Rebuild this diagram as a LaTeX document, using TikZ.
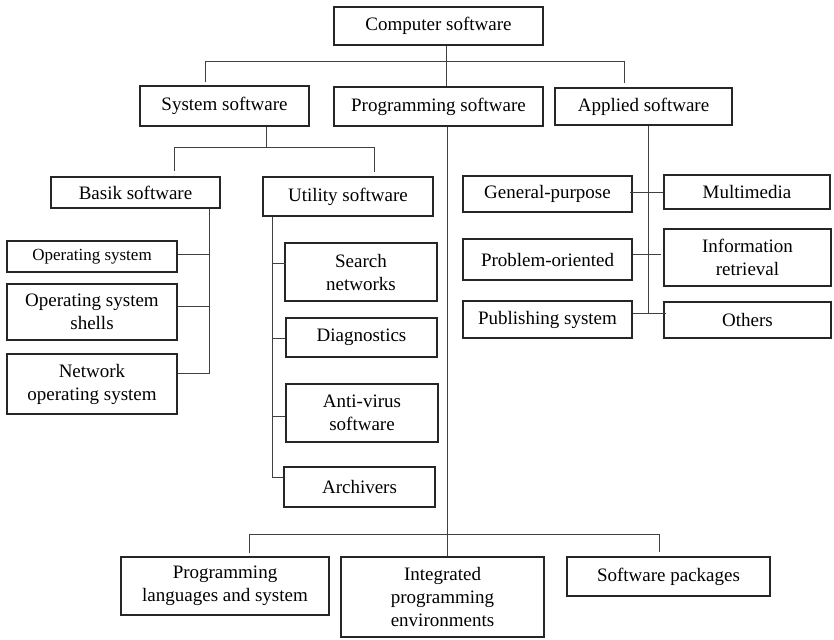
\documentclass[tikz,border=0pt]{standalone}
\usepackage{fontspec}
\setmainfont{Liberation Serif}
\begin{document}
\begin{tikzpicture}[x=1pt,y=-1pt,
  box/.style={draw=black!85, line width=1.5pt, inner sep=0pt, align=center,
    font=\fontsize{19}{23}\selectfont},
  small/.style={font=\fontsize{17}{21}\selectfont},
  wire/.style={draw=black!75, line width=1pt}]
\useasboundingbox (0,0) rectangle (834,639);

% top levels
\node[box, minimum width=209pt, minimum height=38pt] (comp) at (438.5,26) {Computer software};
\node[box, minimum width=169pt, minimum height=40pt] (sys) at (224.5,106) {System software};
\node[box, minimum width=209pt, minimum height=39pt] (prog) at (438.5,106.5) {Programming software};
\node[box, minimum width=177pt, minimum height=37pt] (appl) at (643.5,106.5) {Applied software};

% system software branch
\node[box, minimum width=169pt, minimum height=31pt] (basik) at (135.5,192.5) {Basik software};
\node[box, minimum width=170pt, minimum height=39pt] (util) at (348,196.5) {Utility software};
\node[box, small, minimum width=170pt, minimum height=31pt] (os) at (92,256.5) {Operating system};
\node[box, minimum width=170pt, minimum height=56pt] (oss) at (92,312) {Operating system\\shells};
\node[box, minimum width=170pt, minimum height=60pt] (nos) at (92,384) {Network\\operating system};
\node[box, minimum width=152pt, minimum height=58pt] (search) at (361,272) {Search\\networks};
\node[box, minimum width=151pt, minimum height=39pt] (diag) at (361.5,337.5) {Diagnostics};
\node[box, minimum width=152pt, minimum height=58pt] (anti) at (362,413) {Anti-virus\\software};
\node[box, minimum width=151pt, minimum height=40pt] (arch) at (359.5,487) {Archivers};

% applied software branch
\node[box, minimum width=169pt, minimum height=36pt] (genp) at (547.5,194) {General-purpose};
\node[box, minimum width=166pt, minimum height=34pt] (multi) at (747,192) {Multimedia};
\node[box, minimum width=169pt, minimum height=41pt] (probl) at (547.5,259.5) {Problem-oriented};
\node[box, minimum width=167pt, minimum height=57pt] (info) at (747.5,257.5) {Information\\retrieval};
\node[box, minimum width=169pt, minimum height=37pt] (publ) at (547.5,319.5) {Publishing system};
\node[box, minimum width=167pt, minimum height=36pt] (others) at (747.5,320) {Others};

% programming software branch
\node[box, minimum width=208pt, minimum height=58pt] (pls) at (225,586) {Programming\\languages and system};
\node[box, minimum width=203pt, minimum height=80pt] (ipe) at (442.5,597) {Integrated\\programming\\environments};
\node[box, minimum width=203pt, minimum height=39pt] (spk) at (668.5,576.5) {Software packages};

% computer software -> three kinds
\coordinate (xtop) at (446,62);
\coordinate (busA) at (205,62);
\coordinate (busB) at (624,62);
\draw[wire] (comp.south -| xtop) -- (prog.north -| xtop);
\draw[wire] ([yshift=3pt]sys.north -| busA) -- (busA) -- (busB) -- ([yshift=4pt]appl.north -| busB);

% system software -> basik / utility
\coordinate (xsys) at (266,148);
\coordinate (busC) at (174,148);
\coordinate (busD) at (374,148);
\draw[wire] (sys.south -| xsys) -- (xsys);
\draw[wire] ([yshift=5pt]basik.north -| busC) -- (busC) -- (busD) -- ([yshift=4pt]util.north -| busD);

% basik software -> items
\coordinate (xb) at (209,373);
\coordinate (b1) at (209,254);
\coordinate (b2) at (209,306);
\draw[wire] (basik.south -| xb) -- (xb) -- (nos.east |- xb);
\draw[wire] (os.east |- b1) -- (b1);
\draw[wire] (oss.east |- b2) -- (b2);

% utility software -> items
\coordinate (xu) at (272,477);
\coordinate (u1) at (272,263);
\coordinate (u2) at (272,338);
\coordinate (u3) at (272,416);
\draw[wire] (util.south -| xu) -- (xu) -- (arch.west |- xu);
\draw[wire] (u1) -- ([xshift=2pt]search.west |- u1);
\draw[wire] (u2) -- (diag.west |- u2);
\draw[wire] (u3) -- (anti.west |- u3);

% applied software -> items
\coordinate (xa) at (648,313);
\coordinate (a1) at (648,192);
\coordinate (a2) at (648,254);
\draw[wire] (appl.south -| xa) -- (xa);
\draw[wire] ([xshift=-3pt]genp.east |- a1) -- (multi.west |- a1);
\draw[wire] (probl.east |- a2) -- ([xshift=-2pt]info.west |- a2);
\draw[wire] (publ.east |- xa) -- ([xshift=3pt]others.west |- xa);

% programming software -> items
\coordinate (xp) at (447,534);
\coordinate (busE) at (249,534);
\coordinate (busF) at (659,534);
\draw[wire] (prog.south -| xp) -- (ipe.north -| xp);
\draw[wire] ([yshift=3pt]pls.north -| busE) -- (busE) -- (busF) -- ([yshift=4pt]spk.north -| busF);
\end{tikzpicture}
\end{document}
